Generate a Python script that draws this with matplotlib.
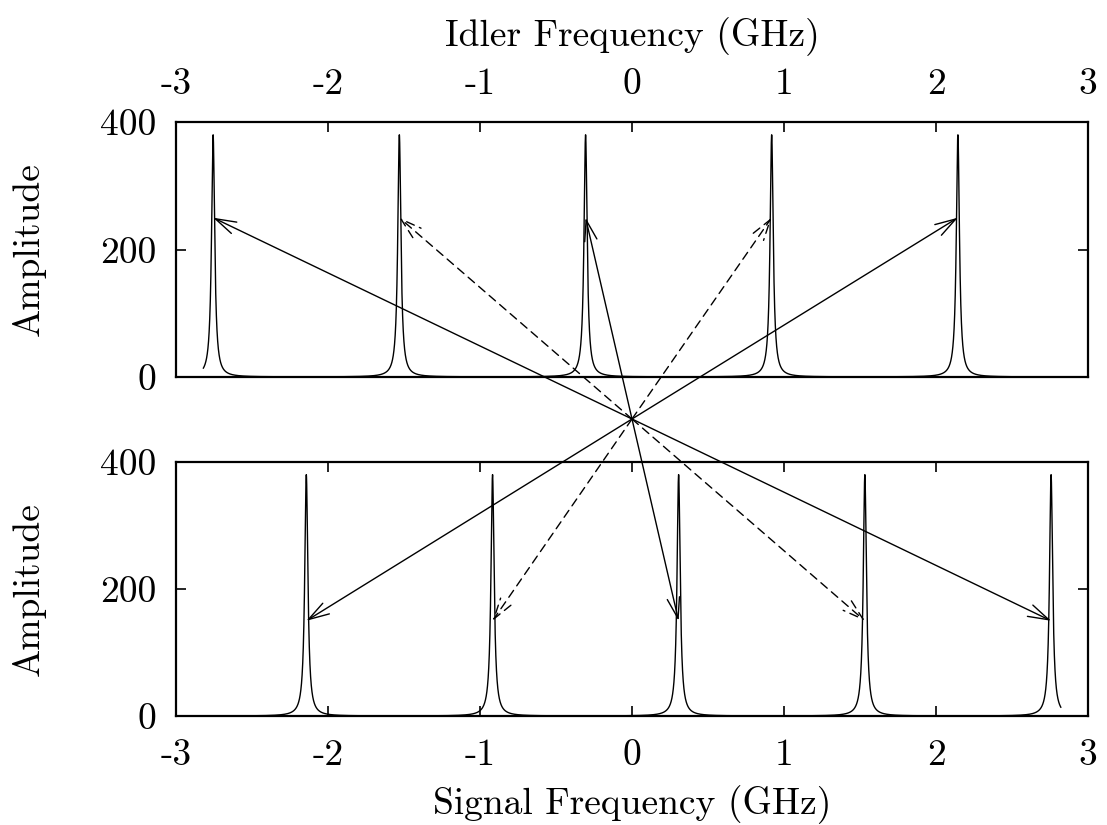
import numpy as np
import matplotlib
matplotlib.use('Agg')
import matplotlib.pyplot as plt
from matplotlib.patches import ConnectionPatch

plt.rcParams['font.family'] = 'cmr10'
plt.rcParams['mathtext.fontset'] = 'cm'
plt.rcParams['axes.unicode_minus'] = False
plt.rcParams['font.size'] = 27

# comb line centres (GHz)
idler_peaks = [-2.756, -1.531, -0.306, 0.918, 2.143]
signal_peaks = [2.756, 1.531, 0.306, -0.918, -2.143]
peak_height = 380.0
half_width = 0.0125

# arrow tips on each comb line
idler_tip = 250
signal_tip = 150
arrow_styles = ['-', (0, (6, 4)), '-', (0, (6, 4)), '-']

xticks = [-3, -2, -1, 0, 1, 2, 3]
yticks = [0, 200, 400]

freq = np.linspace(-2.82, 2.82, 40001)


def comb(centres):
    amp = np.zeros_like(freq)
    for c in centres:
        amp += peak_height / (1 + ((freq - c) / half_width) ** 2)
    return amp


fig = plt.figure(figsize=(11.07, 8.25), dpi=100)
ax_top = fig.add_axes([0.159, 0.543, 0.824, 0.309])
ax_bot = fig.add_axes([0.159, 0.132, 0.824, 0.308])

ax_top.plot(freq, comb(idler_peaks), color='black', lw=1.0)
ax_bot.plot(freq, comb(signal_peaks), color='black', lw=1.0)

for ax in (ax_top, ax_bot):
    ax.set_xlim(-3, 3)
    ax.set_ylim(0, 400)
    ax.set_xticks(xticks)
    ax.set_xticklabels([str(t) for t in xticks])
    ax.set_yticks(yticks)
    ax.set_yticklabels([str(t) for t in yticks])
    ax.set_ylabel('Amplitude', labelpad=39)
    for s in ax.spines.values():
        s.set_linewidth(1.6)
    ax.tick_params(direction='in', length=7, width=1.2, right=True)
    ax.tick_params(axis='y', pad=14)

ax_top.xaxis.set_label_position('top')
ax_top.xaxis.tick_top()
ax_top.tick_params(axis='x', top=True, bottom=False, labeltop=True,
                   labelbottom=False, pad=15)
ax_top.set_xlabel('Idler Frequency (GHz)', labelpad=16)

ax_bot.tick_params(axis='x', top=True, bottom=True, pad=16)
ax_bot.set_xlabel('Signal Frequency (GHz)', labelpad=10)

# common origin between the panels, in figure fraction
origin = (632 / 1107, 1 - 419 / 825)

for xi, xs, ls in zip(idler_peaks, signal_peaks, arrow_styles):
    for ax, x, y in ((ax_top, xi, idler_tip), (ax_bot, xs, signal_tip)):
        con = ConnectionPatch(xyA=origin, coordsA='figure fraction',
                              xyB=(x, y), coordsB=ax.transData,
                              arrowstyle='->,head_length=1.0,head_width=0.3',
                              linestyle=ls, color='black', lw=1.0,
                              shrinkA=0, shrinkB=0, mutation_scale=15)
        fig.add_artist(con)

fig.savefig('out.png', dpi=100)
